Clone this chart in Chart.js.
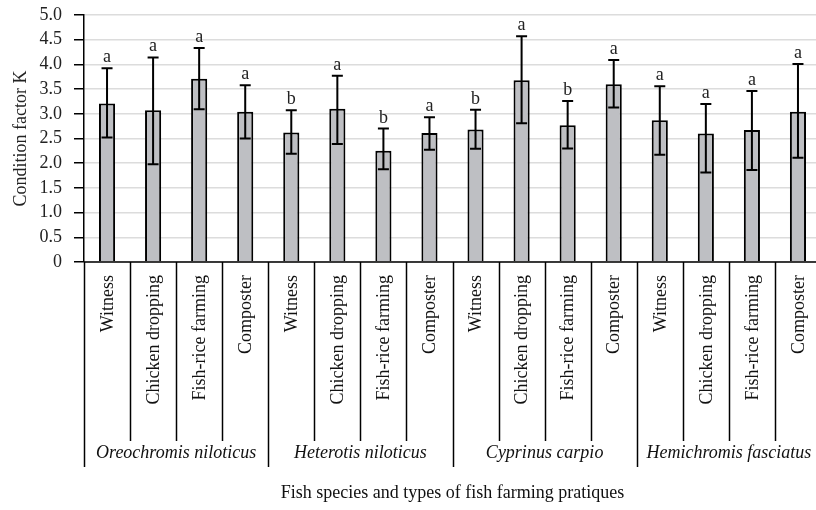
<!DOCTYPE html>
<html lang="en">
  <head>
    <meta charset="UTF-8" />
    <title>Condition factor K</title>
  </head>
  <style>
    * {
      margin: 0;
      padding: 0;
    }
    body {
      background: white;
      overflow: hidden;
    }
    .chartBox {
      width: 821px;
      height: 510px;
    }
  </style>
  <body>
    <div class="chartBox">
      <canvas id="myChart"></canvas>
    </div>

    <script src="https://cdn.jsdelivr.net/npm/chart.js"></script>

    <script>
      // data block
      const species = ["Oreochromis niloticus", "Heterotis niloticus", "Cyprinus carpio", "Hemichromis fasciatus"];
      const practices = ["Witness", "Chicken dropping", "Fish-rice farming", "Composter"];
      const meanK = [3.21, 3.07, 3.71, 3.04, 2.62, 3.10, 2.25, 2.61, 2.68, 3.68, 2.77, 3.60, 2.87, 2.60, 2.67, 3.04];
      const errPlus = [0.71, 1.07, 0.62, 0.54, 0.45, 0.67, 0.45, 0.32, 0.40, 0.89, 0.49, 0.49, 0.69, 0.60, 0.79, 0.97];
      const errMinus = [0.69, 1.09, 0.62, 0.54, 0.43, 0.71, 0.37, 0.34, 0.39, 0.87, 0.47, 0.47, 0.70, 0.79, 0.81, 0.93];
      const letters = ["a", "a", "a", "a", "b", "a", "b", "a", "b", "a", "b", "a", "a", "a", "a", "a"];
      const yTicks = [0, 0.5, 1, 1.5, 2, 2.5, 3, 3.5, 4, 4.5, 5];

      const labels = [];
      species.forEach((s) => practices.forEach((p) => labels.push(p)));

      const serif = "'Liberation Serif', 'Times New Roman', serif";

      // error bars + letters
      const errorBars = {
        id: "errorBars",
        afterDatasetsDraw(chart) {
          const { ctx, scales } = chart;
          const y = scales.y;
          const meta = chart.getDatasetMeta(0);
          ctx.save();
          ctx.strokeStyle = "#000";
          ctx.lineWidth = 2;
          ctx.fillStyle = "#222";
          ctx.font = "18px " + serif;
          ctx.textAlign = "center";
          ctx.textBaseline = "alphabetic";
          meta.data.forEach((bar, i) => {
            const x = bar.x;
            const top = y.getPixelForValue(meanK[i] + errPlus[i]);
            const bot = y.getPixelForValue(meanK[i] - errMinus[i]);
            ctx.beginPath();
            ctx.moveTo(x, top);
            ctx.lineTo(x, bot);
            ctx.moveTo(x - 5.5, top);
            ctx.lineTo(x + 5.5, top);
            ctx.moveTo(x - 5.5, bot);
            ctx.lineTo(x + 5.5, bot);
            ctx.stroke();
            ctx.fillText(letters[i], x, top - 6);
          });
          ctx.restore();
        }
      };

      // category axis drawn by hand (rotated labels, separators, groups)
      const groupAxis = {
        id: "groupAxis",
        afterDraw(chart) {
          const { ctx, chartArea, scales } = chart;
          const x = scales.x;
          const base = chartArea.bottom;
          const n = labels.length;
          const step = (chartArea.right - chartArea.left) / n;
          ctx.save();
          ctx.strokeStyle = "#000";
          ctx.lineWidth = 1.5;

          // baseline
          ctx.beginPath();
          ctx.moveTo(chartArea.left, base);
          ctx.lineTo(chartArea.right, base);
          ctx.stroke();

          // separators
          for (let i = 0; i <= n; i++) {
            const px = Math.round(x.getPixelForValue(i) - step / 2) + 0.5;
            const len = i % practices.length === 0 ? 205 : 179;
            ctx.beginPath();
            ctx.moveTo(px, base);
            ctx.lineTo(px, base + len);
            ctx.stroke();
          }

          // category labels
          ctx.fillStyle = "#111";
          ctx.font = "18px " + serif;
          ctx.textAlign = "right";
          ctx.textBaseline = "middle";
          labels.forEach((lab, i) => {
            const px = x.getPixelForValue(i) + 1;
            ctx.save();
            ctx.translate(px, base + 13);
            ctx.rotate(-Math.PI / 2);
            ctx.fillText(lab, 0, 0);
            ctx.restore();
          });

          // species labels
          ctx.font = "italic 18px " + serif;
          ctx.textAlign = "center";
          species.forEach((s, g) => {
            const first = x.getPixelForValue(g * practices.length);
            const last = x.getPixelForValue(g * practices.length + practices.length - 1);
            ctx.fillText(s, (first + last) / 2, base + 191);
          });

          // axis title
          ctx.font = "18px " + serif;
          ctx.fillText(
            "Fish species and types of fish farming pratiques",
            (chartArea.left + chartArea.right) / 2,
            base + 231
          );
          ctx.restore();
        }
      };

      // config block
      const config = {
        type: "bar",
        data: {
          labels,
          datasets: [
            {
              data: meanK,
              backgroundColor: "#bebfc3",
              borderColor: "#000",
              borderWidth: 2,
              categoryPercentage: 1,
              barPercentage: 0.35
            }
          ]
        },
        options: {
          responsive: true,
          maintainAspectRatio: false,
          animation: false,
          layout: {
            padding: { top: 15, bottom: 248, left: 0, right: 0 }
          },
          plugins: {
            legend: { display: false },
            tooltip: { enabled: false }
          },
          scales: {
            x: {
              display: false
            },
            y: {
              min: 0,
              max: 5,
              afterFit(scale) {
                scale.width = 84;
                scale.paddingTop = 0;
                scale.paddingBottom = 0;
              },
              afterBuildTicks(scale) {
                scale.ticks = yTicks.map((v) => ({ value: v }));
              },
              ticks: {
                padding: 12,
                color: "#222",
                font: { family: serif, size: 18 },
                callback: (v) => (v === 0 ? "0" : v.toFixed(1))
              },
              grid: {
                color: "#dcdcdc",
                lineWidth: 1.5,
                tickColor: "#000",
                tickLength: 10
              },
              border: {
                color: "#000",
                width: 1.5
              },
              title: {
                display: true,
                text: "Condition factor K",
                color: "#222",
                font: { family: serif, size: 18 },
                padding: { top: 10, bottom: 0 }
              }
            }
          }
        },
        plugins: [errorBars, groupAxis]
      };

      // init render block
      const myChart = new Chart(document.getElementById("myChart"), config);
    </script>
  </body>
</html>
